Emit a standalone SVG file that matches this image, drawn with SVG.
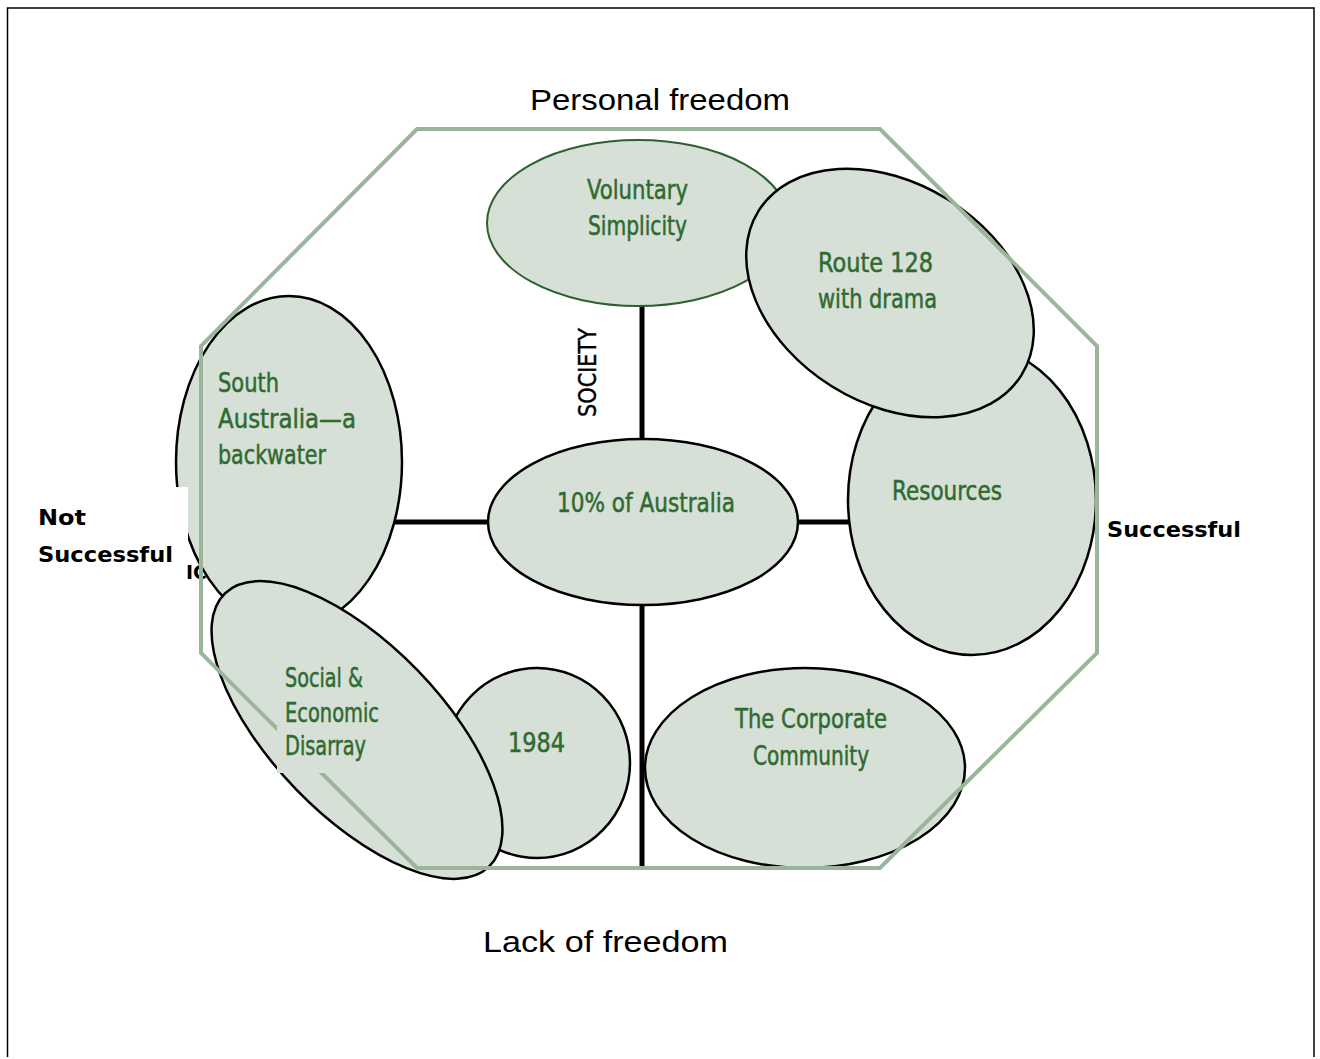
<svg xmlns="http://www.w3.org/2000/svg" width="1320" height="1059" viewBox="0 0 1320 1059">
  <style>
    .blob { fill: #d6e0d6; stroke: #000; stroke-width: 2.5; }
    .blob-green { fill: #d6e0d6; stroke: #2f5f2f; stroke-width: 2; }
    .lbl { font-family: "Liberation Sans Narrow", "DejaVu Sans Condensed", "Liberation Sans", sans-serif; font-size: 27px; fill: #306a31; stroke: #306a31; stroke-width: 0.5; }
    .axis-title { font-family: "Liberation Sans", "DejaVu Sans", sans-serif; font-size: 30px; fill: #000; }
    .side { font-family: "DejaVu Sans", "Liberation Sans", sans-serif; font-weight: bold; font-size: 22px; fill: #000; }
    .axis { stroke: #000; stroke-width: 5; fill: none; }
    .frame { stroke: #9bb59b; stroke-width: 4; fill: none; stroke-linejoin: miter; }
  </style>

  <rect width="1320" height="1059" fill="#fff"/>
  <!-- page border -->
  <path d="M7.5 1057 V8 H1314 V1057" fill="none" stroke="#000" stroke-width="1.5"/>

  <!-- headings -->
  <text class="axis-title" x="530" y="110" textLength="260" lengthAdjust="spacingAndGlyphs">Personal freedom</text>
  <text class="axis-title" x="483" y="952" textLength="245" lengthAdjust="spacingAndGlyphs">Lack of freedom</text>
  <text class="side" x="1107" y="537" textLength="134" lengthAdjust="spacingAndGlyphs">Successful</text>

  <!-- axes -->
  <g id="connectors">
    <line class="axis" x1="642" y1="300" x2="642" y2="870"/>
    <line class="axis" x1="390" y1="522" x2="855" y2="522"/>
  </g>

  <text x="186" y="579" font-family="DejaVu Sans, sans-serif" font-weight="bold" font-size="19" fill="#000">IC</text>

  <g id="south-australia">
    <ellipse class="blob" cx="289" cy="462" rx="113" ry="166"/>
    <text class="lbl" x="218" y="392" textLength="61" lengthAdjust="spacingAndGlyphs">South</text>
    <text class="lbl" x="218" y="428" textLength="138" lengthAdjust="spacingAndGlyphs">Australia—a</text>
    <text class="lbl" x="218" y="464" textLength="108" lengthAdjust="spacingAndGlyphs">backwater</text>
  </g>

  <g id="nineteen-eighty-four">
    <ellipse class="blob" cx="537" cy="763" rx="93" ry="95"/>
    <text class="lbl" x="508" y="752" textLength="57" lengthAdjust="spacingAndGlyphs">1984</text>
  </g>

  <g id="social-economic-disarray">
    <ellipse class="blob" cx="357" cy="730" rx="190" ry="85" transform="rotate(46 357 730)"/>
  </g>

  <g id="voluntary-simplicity">
    <ellipse class="blob-green" cx="638" cy="223" rx="151" ry="83"/>
    <text class="lbl" x="587" y="199" textLength="101" lengthAdjust="spacingAndGlyphs">Voluntary</text>
    <text class="lbl" x="588" y="235" textLength="99" lengthAdjust="spacingAndGlyphs">Simplicity</text>
  </g>

  <g id="resources">
    <ellipse class="blob" cx="972" cy="500" rx="124" ry="155"/>
    <text class="lbl" x="892" y="500" textLength="110" lengthAdjust="spacingAndGlyphs">Resources</text>
  </g>

  <g id="route-128">
    <ellipse class="blob" cx="890" cy="293" rx="155" ry="110" transform="rotate(32 890 293)"/>
    <text class="lbl" x="818" y="272" textLength="115" lengthAdjust="spacingAndGlyphs">Route 128</text>
    <text class="lbl" x="818" y="308" textLength="119" lengthAdjust="spacingAndGlyphs">with drama</text>
  </g>

  <g id="ten-percent">
    <ellipse class="blob" cx="643" cy="522" rx="155" ry="83"/>
    <text class="lbl" x="557" y="512" textLength="178" lengthAdjust="spacingAndGlyphs">10% of Australia</text>
  </g>

  <g id="corporate-community">
    <ellipse class="blob" cx="805" cy="768" rx="160" ry="100"/>
    <text class="lbl" x="735" y="728" textLength="152" lengthAdjust="spacingAndGlyphs">The Corporate</text>
    <text class="lbl" x="753" y="765" textLength="116" lengthAdjust="spacingAndGlyphs">Community</text>
  </g>

  <!-- label panel for the left axis end -->
  <g id="not-successful">
    <rect x="150" y="487" width="38" height="78" fill="#fff"/>
    <text class="side" x="38" y="525" textLength="48" lengthAdjust="spacingAndGlyphs">Not</text>
    <text class="side" x="38" y="562" textLength="135" lengthAdjust="spacingAndGlyphs">Successful</text>
  </g>

  <g id="octagon">
    <polygon class="frame" points="417,129 880,129 1097,346 1097,653 880,868 417,868 201,653 201,346"/>
  </g>

  <!-- text box of the disarray node sits above the frame -->
  <g id="social-economic-label">
    <rect x="277" y="655" width="121" height="118" fill="#d6e0d6"/>
    <text class="lbl" x="285" y="687" textLength="78" lengthAdjust="spacingAndGlyphs">Social &amp;</text>
    <text class="lbl" x="285" y="722" textLength="94" lengthAdjust="spacingAndGlyphs">Economic</text>
    <text class="lbl" x="285" y="755" textLength="81" lengthAdjust="spacingAndGlyphs">Disarray</text>
  </g>

  <text x="596" y="417" transform="rotate(-90 596 417)" font-family="Liberation Sans Narrow, DejaVu Sans Condensed, sans-serif" font-size="25" fill="#000" stroke="#000" stroke-width="0.4" textLength="89" lengthAdjust="spacingAndGlyphs">SOCIETY</text>
</svg>
